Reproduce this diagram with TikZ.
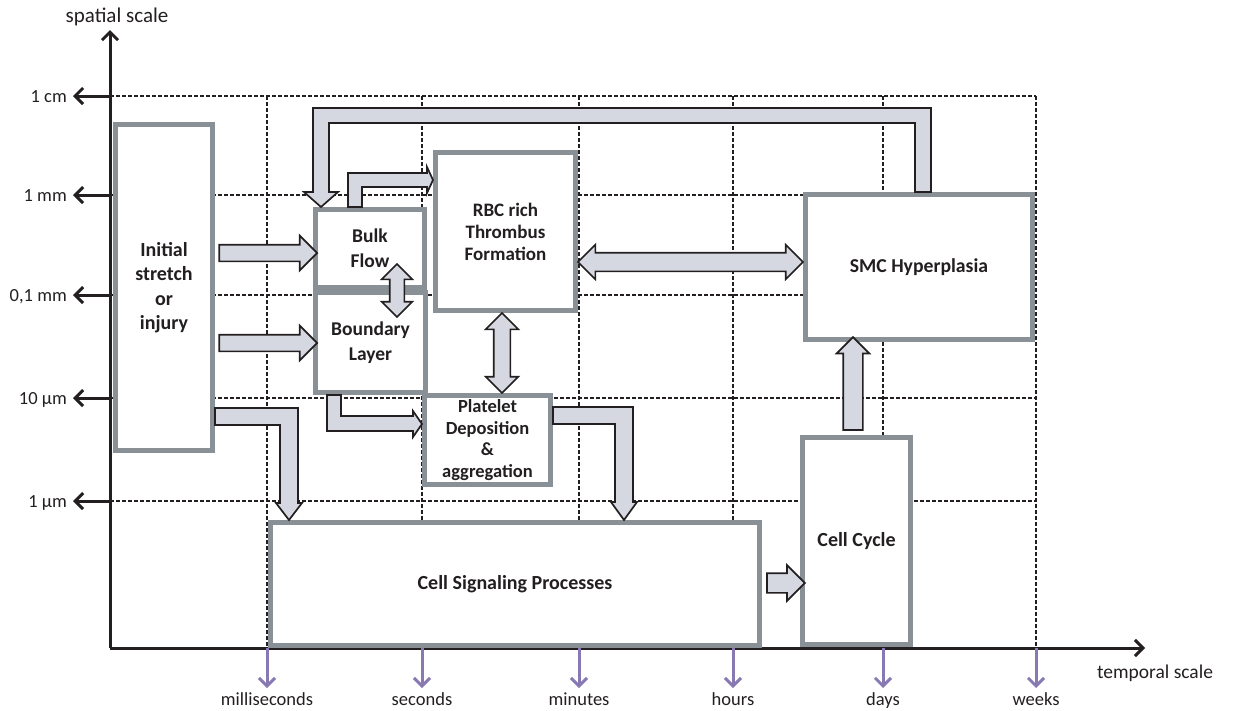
\documentclass[tikz,border=0pt]{standalone}
\usepackage{fontspec}
\setmainfont{Carlito}
\usetikzlibrary{arrows.meta, shapes.arrows, calc}

\definecolor{boxgray}{HTML}{8A9196}
\definecolor{arrowfill}{HTML}{D5D8E0}
\definecolor{tickpurple}{HTML}{8879B3}
\definecolor{inkblack}{HTML}{231F20}

\tikzset{
  procbox/.style={draw=boxgray, line width=5pt, fill=white, inner sep=0pt, align=center,
    text=inkblack, font=\bfseries\fontsize{20}{24}\selectfont},
  blockarr/.style={draw=inkblack, line width=1.7pt, fill=arrowfill, line join=miter},
  fatarrow/.style={blockarr, single arrow, single arrow tip angle=90,
    single arrow head extend=9pt, inner sep=7.5pt, outer sep=0pt},
  fatdouble/.style={blockarr, double arrow, double arrow tip angle=90,
    double arrow head extend=8pt, inner sep=7.5pt, outer sep=0pt},
  gridline/.style={inkblack, line width=1.3pt, dash pattern=on 3.5pt off 2.5pt},
  axisline/.style={inkblack, line width=3pt, -{Straight Barb[length=8pt, width=16pt]}},
  timetick/.style={tickpurple, line width=3pt, -{Straight Barb[length=8pt, width=16pt]}},
  scalelabel/.style={inner sep=0pt, text=inkblack, font=\fontsize{18.5}{22}\selectfont}
}

\begin{document}
\begin{tikzpicture}[x=1pt, y=-1pt]
\useasboundingbox (0,0) rectangle (1238,710);

% --- dashed grid (behind the boxes) ---
\foreach \y in {96,195,295,398,501}
  \draw[gridline] (110,\y) -- (1036,\y);
\foreach \x in {267,422,579,733,883,1036}
  \draw[gridline] (\x,96) -- (\x,648);

% --- axes ---
\draw[axisline] (110,648) -- (110,30);
\draw[axisline] (110,648) -- (1145,648);
\node[scalelabel, font=\fontsize{21}{24}\selectfont] (ylab) at (117,17) {spatial scale};
\node[scalelabel, font=\fontsize{19.5}{22}\selectfont] (xlab) at (1155,673) {temporal scale};

% spatial scale ticks
\foreach \y/\lab in {96/{1 cm}, 195/{1 mm}, 295/{0,1 mm}, 398/{10 µm}, 501/{1 µm}} {
  \draw[axisline] (110,\y) -- (73,\y);
  \node[scalelabel, anchor=base east] (sp\y) at (67,\y+6) {\lab};
}

% temporal scale ticks
\foreach \x/\lab in {267/milliseconds, 422/seconds, 579/minutes, 733/hours, 883/days, 1036/weeks} {
  \draw[timetick] (\x,648) -- (\x,688);
  \node[scalelabel, anchor=base] (tm\x) at (\x,705) {\lab};
}

% --- process boxes ---
\node[procbox, minimum width=97pt, minimum height=326pt, font=\bfseries\fontsize{20}{24.5}\selectfont]
  (init) at (164,287.5) {Initial\\stretch\\or\\injury};
\node[procbox, minimum width=109pt, minimum height=78pt, font=\bfseries\fontsize{19.5}{25}\selectfont]
  (bulk) at (370,248.5) {Bulk\\Flow};
\node[procbox, minimum width=110pt, minimum height=100pt, font=\bfseries\fontsize{19.5}{25}\selectfont]
  (bound) at (370.5,342.5) {Boundary\\Layer};
\node[procbox, minimum width=140pt, minimum height=158pt, font=\bfseries\fontsize{19}{22}\selectfont]
  (rbc) at (505.5,231.5) {RBC rich\\Thrombus\\Formation};
\node[procbox, minimum width=126pt, minimum height=89pt, font=\bfseries\fontsize{18.5}{21.5}\selectfont]
  (plat) at (487.5,440) {Platelet\\Deposition\\\&\\aggregation};
\node[procbox, minimum width=489pt, minimum height=123pt] (signal) at (515,584) {Cell Signaling Processes};
\node[procbox, minimum width=227pt, minimum height=145pt, font=\bfseries\fontsize{19.7}{24}\selectfont]
  (smc) at (919,267) {SMC Hyperplasia};
\node[procbox, minimum width=108pt, minimum height=207pt] (cycle) at (856.5,541) {Cell Cycle};

% --- straight block arrows ---
\coordinate (a1s) at (init.east |- 0,253);
\coordinate (a1e) at (bulk.west |- 0,253);
\path let \p1=($(a1e)-(a1s)$) in node[fatarrow, minimum height={veclen(\x1,\y1)},
  rotate={atan2(\y1,\x1)}] (arr1) at ($(a1s)!0.5!(a1e)$) {};

\coordinate (a2s) at (init.east |- 0,343);
\coordinate (a2e) at (bound.west |- 0,343);
\path let \p1=($(a2e)-(a2s)$) in node[fatarrow, minimum height={veclen(\x1,\y1)},
  rotate={atan2(\y1,\x1)}] (arr2) at ($(a2s)!0.5!(a2e)$) {};

\coordinate (a3s) at (rbc.east |- 0,262);
\coordinate (a3e) at (smc.west |- 0,262);
\path let \p1=($(a3e)-(a3s)$) in node[fatdouble, inner sep=8.5pt, minimum height={veclen(\x1,\y1)},
  rotate={atan2(\y1,\x1)}] (arr3) at ($(a3s)!0.5!(a3e)$) {};

\coordinate (a4s) at ($(bulk.south -| 397,0)+(0,-26)$);
\coordinate (a4e) at ($(bound.north -| 397,0)+(0,27)$);
\path let \p1=($(a4e)-(a4s)$) in node[fatdouble, inner sep=6.5pt, minimum height={veclen(\x1,\y1)},
  rotate={atan2(\y1,\x1)}] (arr4) at ($(a4s)!0.5!(a4e)$) {};

\coordinate (a5s) at (rbc.south -| 502,0);
\coordinate (a5e) at (plat.north -| 502,0);
\path let \p1=($(a5e)-(a5s)$) in node[fatdouble, minimum height={veclen(\x1,\y1)},
  rotate={atan2(\y1,\x1)}] (arr5) at ($(a5s)!0.5!(a5e)$) {};

\coordinate (a6s) at (signal.east |- 0,583);
\coordinate (a6e) at (cycle.west |- 0,583);
\path let \p1=($(a6e)-(a6s)$) in node[fatarrow, inner sep=9pt, single arrow head extend=8pt,
  minimum height={veclen(\x1,\y1)}, rotate={atan2(\y1,\x1)}] (arr6) at ($(a6s)!0.5!(a6e)$) {};

\coordinate (a7s) at (cycle.north -| 853,0);
\coordinate (a7e) at (smc.south -| 853,0);
\path let \p1=($(a7e)-(a7s)$) in node[fatarrow, inner sep=9pt, single arrow head extend=6.5pt,
  minimum height={veclen(\x1,\y1)}, rotate={atan2(\y1,\x1)}] (arr7) at ($(a7s)!0.5!(a7e)$) {};

% --- elbow block arrows ---
% bulk flow -> thrombus
\draw[blockarr] (bulk.north -| 348,0) -- (348,173) -- (427,173) -- (427,167) -- (rbc.west |- 0,180)
  -- (427,193) -- (427,187) -- (362,187) -- (bulk.north -| 362,0) -- cycle;
% hyperplasia -> bulk flow (top loop)
\draw[blockarr] (smc.north -| 915,0) -- (915,123) -- (329,123) -- (329,192) -- (338,192)
  -- (bulk.north -| 321,0) -- (304,192) -- (313,192) -- (313,108) -- (931,108)
  -- (smc.north -| 931,0) -- cycle;
% boundary layer -> platelet
\draw[blockarr] (bound.south -| 327,0) -- (327,431) -- (413,431) -- (413,437) -- (plat.west |- 0,424)
  -- (413,411) -- (413,416) -- (341,416) -- (bound.south -| 341,0) -- cycle;
% injury -> signaling
\draw[blockarr] (init.east |- 0,408) -- (298,408) -- (298,503) -- (302,503) -- (signal.north -| 289,0)
  -- (276,503) -- (280,503) -- (280,425) -- (init.east |- 0,425) -- cycle;
% platelet -> signaling
\draw[blockarr] (plat.east |- 0,407) -- (633,407) -- (633,502) -- (637,502) -- (signal.north -| 624,0)
  -- (611,502) -- (615,502) -- (615,424) -- (plat.east |- 0,424) -- cycle;

\end{tikzpicture}
\end{document}
